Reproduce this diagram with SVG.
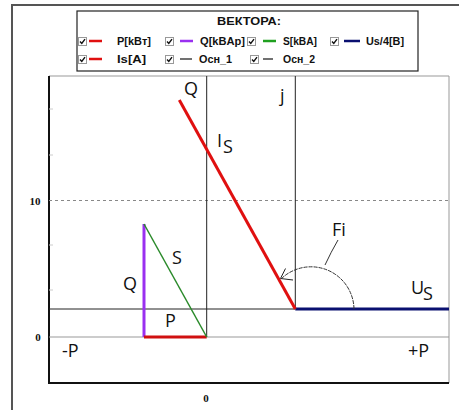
<svg xmlns="http://www.w3.org/2000/svg" width="459" height="410" viewBox="0 0 459 410">
<style>
.lg{font-family:"Liberation Sans",Arial,sans-serif;font-weight:bold;font-size:11px;fill:#111}
.lb{font-family:"Open Sans","Liberation Sans",sans-serif;font-size:18px;fill:#111}
.ax{font-family:"Liberation Serif","Times New Roman",serif;font-weight:bold;font-size:11px;fill:#111}
.cb{fill:#fff;stroke:#999;stroke-width:1}
.ck{fill:none;stroke:#111;stroke-width:1.4}
</style>
<defs>
<g id="chk"><rect class="cb" x="0.5" y="0.5" width="8" height="8"/><path class="ck" d="M2 4.5 L3.8 6.5 L7 2.2"/></g>
</defs>
<rect x="0" y="0" width="459" height="410" fill="#fff"/>
<!-- outer frame -->
<path d="M12 410 V5 H459" fill="none" stroke="#555" stroke-width="2"/>
<!-- legend -->
<g id="legend">
<rect x="77" y="11" width="341" height="60" fill="#fff" stroke="#222" stroke-width="1.2"/>
<text class="lg" x="217" y="25" font-size="12" textLength="64" lengthAdjust="spacingAndGlyphs">ВЕКТОРА:</text>
<use href="#chk" x="78" y="37"/>
<line x1="89" y1="41" x2="102" y2="41" stroke="#e01010" stroke-width="2.5"/>
<text class="lg" x="117" y="45" textLength="34" lengthAdjust="spacingAndGlyphs">P[kBт]</text>
<use href="#chk" x="165" y="37"/>
<line x1="180" y1="41" x2="193" y2="41" stroke="#9a30f0" stroke-width="2.5"/>
<text class="lg" x="200" y="45" textLength="45" lengthAdjust="spacingAndGlyphs">Q[kBAp]</text>
<use href="#chk" x="247" y="37"/>
<line x1="263" y1="41" x2="276" y2="41" stroke="#20a020" stroke-width="2.5"/>
<text class="lg" x="283" y="45" textLength="34" lengthAdjust="spacingAndGlyphs">S[kBA]</text>
<use href="#chk" x="330" y="37"/>
<line x1="344" y1="41" x2="360" y2="41" stroke="#0a1070" stroke-width="2.5"/>
<text class="lg" x="366" y="45" textLength="38" lengthAdjust="spacingAndGlyphs">Us/4[B]</text>
<use href="#chk" x="78" y="55"/>
<line x1="89" y1="59" x2="102" y2="59" stroke="#e01010" stroke-width="2.5"/>
<text class="lg" x="117" y="63" textLength="29" lengthAdjust="spacingAndGlyphs">Is[A]</text>
<use href="#chk" x="165" y="55"/>
<line x1="180" y1="59" x2="192" y2="59" stroke="#111" stroke-width="1.2"/>
<text class="lg" x="199" y="63" textLength="33" lengthAdjust="spacingAndGlyphs">Осн_1</text>
<use href="#chk" x="250" y="55"/>
<line x1="263" y1="59" x2="273" y2="59" stroke="#111" stroke-width="1.2"/>
<text class="lg" x="283" y="63" textLength="32" lengthAdjust="spacingAndGlyphs">Осн_2</text>
</g>
<!-- plot frame -->
<g id="plot">
<rect x="49" y="76" width="400" height="307" fill="#fff"/>
<path d="M49 76 H449 V383" fill="none" stroke="#999" stroke-width="1"/>
<path d="M49 76 V383 H449" fill="none" stroke="#111" stroke-width="2"/>
<g stroke="#ccc" stroke-width="1">
<line x1="49" y1="109" x2="53" y2="109"/><line x1="49" y1="155" x2="53" y2="155"/>
<line x1="49" y1="245" x2="53" y2="245"/><line x1="49" y1="290" x2="53" y2="290"/>
</g>
<line x1="49" y1="200.5" x2="449" y2="200.5" stroke="#888" stroke-width="1" stroke-dasharray="3,3"/>
<line x1="49" y1="337" x2="449" y2="337" stroke="#999" stroke-width="1"/>
<text class="ax" x="35" y="205" text-anchor="middle">10</text>
<text class="ax" x="38" y="341" text-anchor="middle">0</text>
<text class="ax" x="206" y="402" text-anchor="middle">0</text>
</g>
<!-- connectors / axes and vectors -->
<g id="connectors">
<line x1="206.7" y1="76" x2="206.7" y2="337" stroke="#222" stroke-width="1"/>
<line x1="295.3" y1="76" x2="295.3" y2="309" stroke="#222" stroke-width="1"/>
<line x1="49" y1="309" x2="295.3" y2="309" stroke="#222" stroke-width="1"/>
<line x1="295.3" y1="309" x2="449" y2="309" stroke="#0a1070" stroke-width="3"/>
<line x1="179.3" y1="100" x2="295.3" y2="309" stroke="#e01010" stroke-width="3"/>
<line x1="144" y1="224" x2="144" y2="337" stroke="#9a30f0" stroke-width="3"/>
<line x1="144" y1="337" x2="206.7" y2="337" stroke="#d01010" stroke-width="3"/>
<line x1="144" y1="224" x2="206.7" y2="337" stroke="#2a8a2a" stroke-width="1.5"/>
<path d="M354 309 A43 43 0 0 0 281 279" fill="none" stroke="#333" stroke-width="1" stroke-dasharray="4,1"/>
<path d="M285.5 268.5 L280.5 278.5 L293 280" fill="none" stroke="#222" stroke-width="1"/>
<path d="M338 240 Q331 252 325 265" fill="none" stroke="#333" stroke-width="1"/>
</g>
<!-- labels -->
<g id="labels">
<text class="lb" x="184" y="95">Q</text>
<text class="lb" x="280" y="102">j</text>
<text class="lb" x="217" y="147">I</text><text class="lb" x="223" y="153" font-size="15">S</text>
<text class="lb" x="332" y="236">Fi</text>
<text class="lb" x="172" y="264">S</text>
<text class="lb" x="123" y="290">Q</text>
<text class="lb" x="165" y="327">P</text>
<text class="lb" x="411" y="294">U</text><text class="lb" x="423" y="300" font-size="15">S</text>
<text class="lb" x="62" y="357">-P</text>
<text class="lb" x="408" y="357">+P</text>
</g>
</svg>
